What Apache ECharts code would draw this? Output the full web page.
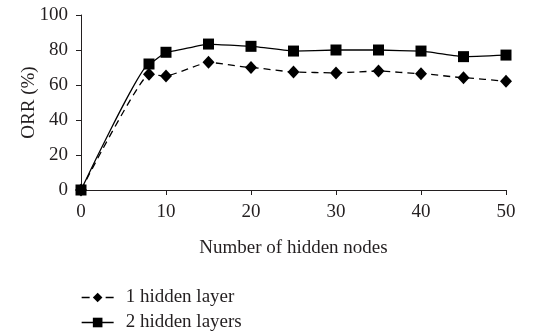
<!DOCTYPE html>
<html>
<head>
<meta charset="utf-8">
<script src="https://cdn.jsdelivr.net/npm/echarts@6/dist/echarts.min.js"></script>
<style>html,body{margin:0;padding:0;background:#fff}#c{width:542px;height:334px}</style>
</head>
<body>
<div id="c"></div>
<script>
var nodes = [0, 8, 10, 15, 20, 25, 30, 35, 40, 45, 50];
var oneLayer = [0, 66.1, 65.1, 73.0, 70.0, 67.4, 66.9, 68.0, 66.5, 64.2, 62.1];
var twoLayers = [0, 72.0, 78.7, 83.4, 82.1, 79.4, 80.0, 80.0, 79.4, 76.2, 77.1];
var seriesNames = ['1 hidden layer', '2 hidden layers'];
var xTicks = [0, 10, 20, 30, 40, 50];
var yTicks = [0, 20, 40, 60, 80, 100];

function pairs(ys){ return nodes.map(function(x,i){ return [x, ys[i]]; }); }
var font = 'Liberation Serif';
var txt = '#231f20';
var fs = 19;
function legendAt(name, top, lineType){
  return {
    orient: 'vertical', left: 76, top: top, itemWidth: 32, itemHeight: 12,
    lineStyle: {type: lineType, width: 1.3, color: '#000'},
    textStyle: {fontFamily: font, fontSize: fs, color: txt, padding: [0, 0, 0, 7]},
    data: [name]
  };
}
var chart = echarts.init(document.getElementById('c'), null, {renderer:'canvas'});
chart.setOption({
  animation: false,
  textStyle: {fontFamily: font, color: txt},
  grid: {left: 81, right: 36, top: 15, bottom: 144, containLabel: false},
  legend: [
    legendAt(seriesNames[0], 283, [8, 16]),
    legendAt(seriesNames[1], 308, 'solid')
  ],
  xAxis: {
    type: 'value', min: xTicks[0], max: xTicks[xTicks.length-1], interval: 10,
    name: 'Number of hidden nodes', nameLocation: 'middle', nameGap: 49,
    nameMoveOverlap: false,
    nameTextStyle: {fontFamily: font, fontSize: fs, color: txt},
    axisLine: {lineStyle: {color: '#231f20', width: 1}},
    axisTick: {show: true, length: 5, lineStyle: {color: '#231f20'}},
    axisLabel: {fontFamily: font, fontSize: fs, color: txt, margin: 13},
    splitLine: {show: false}
  },
  yAxis: {
    type: 'value', min: yTicks[0], max: yTicks[yTicks.length-1], interval: 20,
    name: 'ORR (%)', nameLocation: 'middle', nameGap: 42, nameRotate: 90,
    nameMoveOverlap: false,
    nameTextStyle: {fontFamily: font, fontSize: fs, color: txt},
    axisLine: {show: true, lineStyle: {color: '#231f20', width: 1}},
    axisTick: {show: true, length: 5, lineStyle: {color: '#231f20'}},
    axisLabel: {fontFamily: font, fontSize: fs, color: txt, margin: 13},
    splitLine: {show: false}
  },
  series: [
    {
      name: seriesNames[0], type: 'line', data: pairs(oneLayer),
      smooth: 0.12, smoothMonotone: 'x',
      symbol: 'diamond', symbolSize: [12, 13],
      lineStyle: {color: '#000', width: 1.3, type: [7, 5]},
      itemStyle: {color: '#000'}
    },
    {
      name: seriesNames[1], type: 'line', data: pairs(twoLayers),
      smooth: 0.12, smoothMonotone: 'x',
      symbol: 'rect', symbolSize: 11,
      lineStyle: {color: '#000', width: 1.3},
      itemStyle: {color: '#000'}
    }
  ]
});
</script>
</body>
</html>
